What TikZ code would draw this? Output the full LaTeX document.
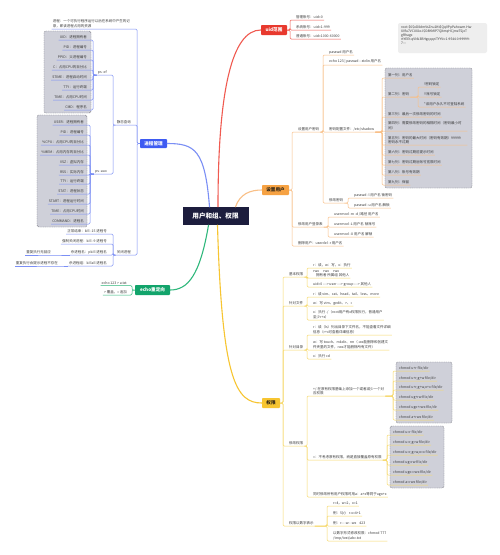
\documentclass[tikz,border=0pt]{standalone}
\usepackage{fontspec}
\setmainfont{Noto Sans CJK SC}
\definecolor{txt}{HTML}{3A3A3A}
\definecolor{txtdark}{HTML}{2D2416}
\definecolor{lnR}{HTML}{F05A50}
\definecolor{cRed}{HTML}{E8392E}
\definecolor{lnO}{HTML}{F9BF86}
\definecolor{cOra}{HTML}{F6A243}
\definecolor{lnB}{HTML}{7B8FF5}
\definecolor{cBlu}{HTML}{3E5BF2}
\definecolor{lnG}{HTML}{2FB87C}
\definecolor{cGrn}{HTML}{12A46B}
\definecolor{lnY}{HTML}{F7D96A}
\definecolor{cYel}{HTML}{F7C531}
\definecolor{grpfill}{HTML}{CFD0D9}
\definecolor{grpdraw}{HTML}{6E6E78}
\definecolor{hashbg}{HTML}{EEEEEE}
\definecolor{navy}{HTML}{1C1D3D}
\newcommand\dd{-\kern0pt-}
\newcommand\arr{-\kern0pt-\kern0pt->}
\tikzset{
  lf/.style={font=\fontsize{3.5}{4.6}\selectfont, text=txt, inner xsep=1pt, inner ysep=0.9pt},
  lfr/.style={lf, anchor=south west},
  lfl/.style={lf, anchor=south east},
  topic/.style={font=\fontsize{4.6}{5}\selectfont\bfseries, inner sep=0pt, rounded corners=0.8pt},
  grp/.style={fill=grpfill, draw=grpdraw, dash pattern=on 1pt off 0.8pt, line width=0.4pt, rounded corners=2pt},
  cR/.style={draw=lnR, line width=0.5pt, rounded corners=1.2pt},
  cO/.style={draw=lnO, line width=0.5pt, rounded corners=1.2pt},
  cB/.style={draw=lnB, line width=0.5pt, rounded corners=1.2pt},
  cG/.style={draw=lnG, line width=0.5pt, rounded corners=1.2pt},
  cY/.style={draw=lnY, line width=0.5pt, rounded corners=1.2pt},
  curve/.style={line width=1.1pt, line cap=round},
}
\begin{document}
\begin{tikzpicture}[x=1pt,y=-1pt]
\useasboundingbox (0,0) rectangle (500,555);
\fill[white] (0,0) rectangle (500,555);

% group boxes
\path[grp] (44,31) rectangle (91,113);
\path[grp] (37,115) rectangle (87,227);
\path[grp] (385,68) rectangle (472,188);
\path[grp] (396,362) rectangle (452,423);
\path[grp] (390,426) rectangle (444,488);

% hash box
\path[fill=hashbg, rounded corners=2pt] (398,23) rectangle (487,53);
\node[font=\fontsize{3.3}{3.9}\selectfont, text=txt, align=left, anchor=north west, inner sep=0pt] (hash) at (401,26)
 {root:\$6\$oD8dmVsZnu1Kt\$QqVPpPahowm.Hw\\XVfu7VCUXkcJ\$O8KMIP7QXmqHCjmeTSjoT\\gRhagx\\rtYEEt.qVNk3BHgqqqriTYYVv:1:9544:0:99999:\\7:::};

% center and topics
\node[fill=navy, text=white, font=\fontsize{6.6}{7}\selectfont\bfseries, minimum width=66pt, minimum height=18pt, inner sep=0pt] (ctr) at (215.5,216) {用户和组、权限};
\node[topic, fill=cRed, text=white, minimum width=26pt, minimum height=10pt] (uid) at (274,30) {uid范围};
\node[topic, fill=cOra, text=txtdark, minimum width=27pt, minimum height=10pt] (ou) at (275.5,190) {设置用户};
\node[topic, fill=cBlu, text=white, minimum width=27pt, minimum height=9pt] (pm) at (153.5,143.5) {进程管理};
\node[topic, fill=cGrn, text=white, minimum width=35pt, minimum height=10pt] (echo) at (152.5,290) {echo重定向};
\node[topic, fill=cYel, text=txtdark, minimum width=18pt, minimum height=10pt] (perm) at (271,403) {权限};

% main curves
\draw[curve, lnR] ([xshift=2.5pt]ctr.north) .. controls (218,90) and (232,30) .. (uid.west);
\draw[curve, lnO] ([xshift=20pt]ctr.north) .. controls (240,194) and (250,190) .. (ou.west);
\draw[curve, lnB] ([xshift=-6pt]ctr.north) .. controls (205,150) and (195,143.5) .. (pm.east);
\draw[curve, lnG] ([xshift=-7pt]ctr.south) .. controls (200,275) and (188,290) .. (echo.east);
\draw[curve, cYel] ([xshift=2pt]ctr.south) .. controls (222,380) and (236,403) .. (perm.west);

% ---------- red ----------
\node[lfr] (r1) at (295,20) {管理账号：uid=0};
\node[lfr] (r2) at (295,30) {系统账号：uid=1-999};
\node[lfr] (r3) at (295,39) {普通账号：uid=1000-60000};
\foreach \n in {r1,r2,r3} \draw[cR] (uid.east) -| ([xshift=-5pt]\n.south west) -- (\n.south east);

% ---------- orange ----------
\node[lfr] (o1) at (297,132) {设置用户密码};
\node[lfr] (o2) at (297,227) {修改用户登录表};
\node[lfr] (o3) at (297,246) {删除用户：userdel -r 用户名};
\foreach \n in {o1,o2,o3} \draw[cO] (ou.east) -| ([xshift=-5pt]\n.south west) -- (\n.south east);

\node[lfr] (o11) at (328,55) {passwd 用户名};
\node[lfr] (o12) at (328,65) {echo 123 | passwd \dd stdin 用户名};
\node[lfr] (o13) at (328,132) {密码配置文件：/etc/shadow};
\node[lfr] (o14) at (328,203) {修改密码};
\foreach \n in {o11,o12,o13,o14} \draw[cO] (o1.south east) -| ([xshift=-5pt]\n.south west) -- (\n.south east);

\node[lfr] (s1) at (387,78) {第一列：用户名};
\node[lfr] (s2) at (387,97) {第二列：密码};
\node[lfr] (s3) at (387,117) {第三列：最后一次修改密码的时间};
\node[lfr, text width=78pt, align=left] (s4) at (387,131) {第四列：需要修改密码的相隔时间（密码最小时\\间）};
\node[lfr, text width=78pt, align=left] (s5) at (387,145) {第五列：密码的最大时间（密码有效期）99999\\密码永不过期};
\node[lfr] (s6) at (387,155) {第六列：密码过期前提示时间};
\node[lfr] (s7) at (387,165) {第七列：密码过期后账号宽限时间};
\node[lfr] (s8) at (387,175) {第八列：账号有效期};
\node[lfr] (s9) at (387,185) {第九列：保留};
\foreach \n in {s1,s2,s3,s4,s5,s6,s7,s8,s9} \draw[cO] (o13.south east) -| ([xshift=-5pt]\n.south west) -- (\n.south east);

\node[lfr] (s21) at (423,87) {!密码锁定};
\node[lfr] (s22) at (423,97) {!!账号锁定};
\node[lfr] (s23) at (423,107) {*该用户永久不可登陆系统};
\foreach \n in {s21,s22,s23} \draw[cO] (s2.south east) -| ([xshift=-5pt]\n.south west) -- (\n.south east);

\node[lfr] (o141) at (353,198) {passwd -l 用户名 锁密码};
\node[lfr] (o142) at (353,208) {passwd -u 用户名 解锁};
\foreach \n in {o141,o142} \draw[cO] (o14.south east) -| ([xshift=-5pt]\n.south west) -- (\n.south east);

\node[lfr] (o21) at (333,217) {usermod -m -d /路径 用户名};
\node[lfr] (o22) at (333,227) {usermod -L 用户名 锁账号};
\node[lfr] (o23) at (333,237) {usermod -U 用户名 解锁};
\foreach \n in {o21,o22,o23} \draw[cO] (o2.south east) -| ([xshift=-5pt]\n.south west) -- (\n.south east);

% ---------- blue ----------
\node[lfl, text width=78pt, align=left] (b1) at (132,29) {进程：一个可执行程序运行以后在系统中产生的记\\录，即该进程占用的资源};
\node[lfl] (b2) at (132,125) {静态查询};
\node[lfl] (b4) at (132,255) {关闭进程};
\foreach \n in {b1,b2,b4} \draw[cB] (pm.west) -| ([xshift=5pt]\n.south east) -- (\n.south west);

\node[lfl] (b21) at (108,75) {ps -ef};
\node[lfl] (b22) at (108,174) {ps -aux};
\foreach \n in {b21,b22} \draw[cB] (b2.south west) -| ([xshift=5pt]\n.south east) -- (\n.south west);

\node[lfl] (e1) at (88,40) {UID：进程拥有者};
\node[lfl] (e2) at (88,50) {PID：进程编号};
\node[lfl] (e3) at (88,60) {PPID：父进程编号};
\node[lfl] (e4) at (88,70) {C：占用CPU的百分比};
\node[lfl] (e5) at (88,80) {STIME：进程启动时间};
\node[lfl] (e6) at (88,90) {TTY：运行终端};
\node[lfl] (e7) at (88,100) {TIME：占用CPU时间};
\node[lfl] (e8) at (88,110) {CMD：程序名};
\foreach \n in {e1,e2,e3,e4,e5,e6,e7,e8} \draw[cB] (b21.south west) -| ([xshift=5pt]\n.south east) -- (\n.south west);

\node[lfl] (f1) at (85,125) {USER：进程拥有者};
\node[lfl] (f2) at (85,135) {PID：进程编号};
\node[lfl] (f3) at (85,145) {\%CPU：占用CPU的百分比};
\node[lfl] (f4) at (85,155) {\%MEM：占用内存的百分比};
\node[lfl] (f5) at (85,165) {VSZ：虚拟内存};
\node[lfl] (f6) at (85,175) {RSS：实际内存};
\node[lfl] (f7) at (85,184) {TTY：运行终端};
\node[lfl] (f8) at (85,194) {STAT：进程状态};
\node[lfl] (f9) at (85,204) {START：进程运行时间};
\node[lfl] (f10) at (85,214) {TIME：占用CPU时间};
\node[lfl] (f11) at (85,224) {COMMAND：进程名};
\foreach \n in {f1,f2,f3,f4,f5,f6,f7,f8,f9,f10,f11} \draw[cB] (b22.south west) -| ([xshift=5pt]\n.south east) -- (\n.south west);

\node[lfl] (k1) at (108,234) {正常结束：kill -15 进程号};
\node[lfl] (k2) at (108,244) {强制关闭进程：kill -9 进程号};
\node[lfl] (k3) at (108,255) {杀进程名：pkill 进程名};
\node[lfl] (k4) at (108,266) {杀进程组：killall 进程名};
\foreach \n in {k1,k2,k3,k4} \draw[cB] (b4.south west) -| ([xshift=5pt]\n.south east) -- (\n.south west);
\node[lfl] (k31) at (52,255) {重复执行无回应};
\node[lfl] (k41) at (59,266) {重复执行会提示进程不存在};
\draw[cB] (k3.south west) -- (k31.south east) -- (k31.south west);
\draw[cB] (k4.south west) -- (k41.south east) -- (k41.south west);

% ---------- green ----------
\node[lfl] (g1) at (128,285.5) {echo 123 > a.txt};
\node[lfl] (g2) at (128,295) {> 覆盖，>> 追加};
\foreach \n in {g1,g2} \draw[cG] (echo.west) -| ([xshift=4pt]\n.south east) -- (\n.south west);

% ---------- yellow ----------
\node[lfr] (y1) at (288,277) {基本权限};
\node[lfr] (y2) at (288,306) {针对文件};
\node[lfr] (y3) at (288,350) {针对目录};
\node[lfr] (y4) at (288,446) {修改权限};
\node[lfr] (y5) at (288,526) {权限以数字表示};
\foreach \n in {y1,y2,y3,y4,y5} \draw[cY] (perm.east) -| ([xshift=-5pt]\n.south west) -- (\n.south east);

\node[lfr] (y11) at (312,268) {r：读，w：写，x：执行};
\node[lfr, align=left] (y12) at (312,278) {rwx\hspace{4pt}rwx\hspace{4pt}rwx\\\hspace{3pt}拥有者 所属组 其他人};
\node[lfr] (y13) at (312,287) {uid=0 \arr{} user \arr{} group \arr{} 其他人};
\foreach \n in {y11,y12,y13} \draw[cY] (y1.south east) -| ([xshift=-5pt]\n.south west) -- (\n.south east);

\node[lfr] (y21) at (312,297) {r：读 vim、cat、head、tail、less、more};
\node[lfr] (y22) at (312,306) {w：写 vim、gedit、>、>>};
\node[lfr, align=left] (y23) at (312,320) {x：执行 ./（root用户有x权限执行，普通用户\\至少r+x）};
\foreach \n in {y21,y22,y23} \draw[cY] (y2.south east) -| ([xshift=-5pt]\n.south west) -- (\n.south east);

\node[lfr, align=left] (y31) at (312,335) {r：读（ls）列出目录下文件名，不能查看文件详细\\信息（r+x可查看详细信息）};
\node[lfr, align=left] (y32) at (312,350) {w：写 touch、mkdir、rm（-wx能删除和创建文\\件夹里的文件，rwx才能删除所有文件）};
\node[lfr] (y33) at (312,359) {x：执行 cd};
\foreach \n in {y31,y32,y33} \draw[cY] (y3.south east) -| ([xshift=-5pt]\n.south west) -- (\n.south east);

\node[lfr, align=left] (y41) at (312,396) {+/-在原有权限基础上添加一个或者减少一个对\\应权限};
\node[lfr] (y42) at (312,460) {=：不考虑原有权限，而是直接覆盖原有权限};
\node[lfr] (y43) at (312,497) {同时修改所有用户权限时用a：a+x等同于ugo+x};
\foreach \n in {y41,y42,y43} \draw[cY] (y4.south east) -| ([xshift=-5pt]\n.south west) -- (\n.south east);

\node[lfr] (c1) at (398,371) {chmod u+r file/dir};
\node[lfr] (c2) at (398,381) {chmod u+r,g+w file/dir};
\node[lfr] (c3) at (398,390) {chmod u+r,g+w,o+x file/dir};
\node[lfr] (c4) at (398,400) {chmod ug+rw file/dir};
\node[lfr] (c5) at (398,410) {chmod ugo+rwx file/dir};
\node[lfr] (c6) at (398,420) {chmod a+rwx file/dir};
\foreach \n in {c1,c2,c3,c4,c5,c6} \draw[cY] (y41.south east) -| ([xshift=-5pt]\n.south west) -- (\n.south east);

\node[lfr] (d1) at (392,435) {chmod u=r file/dir};
\node[lfr] (d2) at (392,445) {chmod u=r,g=w file/dir};
\node[lfr] (d3) at (392,455) {chmod u=r,g=w,o=x file/dir};
\node[lfr] (d4) at (392,465) {chmod ug=rw file/dir};
\node[lfr] (d5) at (392,475) {chmod ugo=rwx file/dir};
\node[lfr] (d6) at (392,485) {chmod a=rwx file/dir};
\foreach \n in {d1,d2,d3,d4,d5,d6} \draw[cY] (y42.south east) -| ([xshift=-5pt]\n.south west) -- (\n.south east);

\node[lfr] (n1) at (332,506) {r=4，w=2，x=1};
\node[lfr] (n2) at (332,516) {例：5(r)\hspace{3pt}r-x=4+1};
\node[lfr] (n3) at (332,526) {例：r\dd{} -w- -wx\hspace{3pt}423};
\node[lfr, align=left] (n4) at (332,541) {以数字形式修改权限：chmod 777\\/tmp/test/abc.txt};
\foreach \n in {n1,n2,n3,n4} \draw[cY] (y5.south east) -| ([xshift=-5pt]\n.south west) -- (\n.south east);
\end{tikzpicture}
\end{document}
